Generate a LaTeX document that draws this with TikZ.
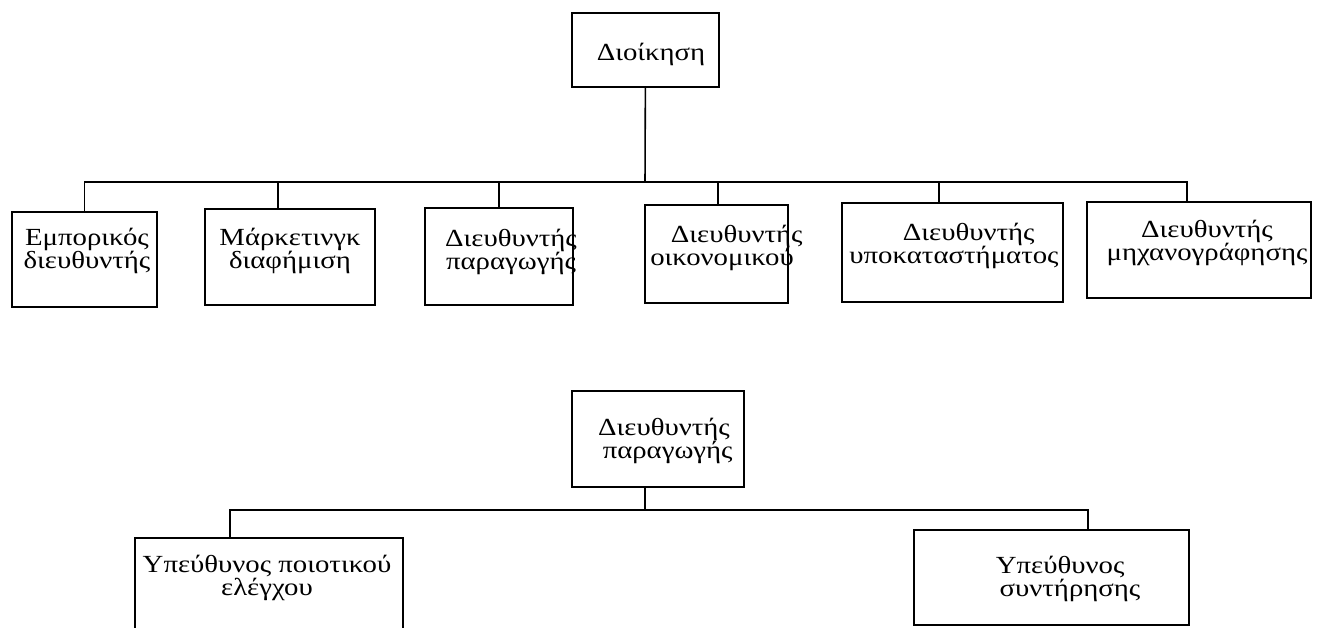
\documentclass[tikz,border=0pt]{standalone}
\usepackage{fontspec}
\setmainfont{Liberation Serif}[FakeStretch=1.17]
\usetikzlibrary{positioning}

\begin{document}
\begin{tikzpicture}[
    x=0.02cm, y=-0.02cm,
    box/.style={
        draw=black, line width=1pt, minimum width=#1, inner sep=0pt
    },
    txt/.style={
        font=\fontsize{14}{13}\selectfont, align=center, inner sep=0pt
    },
    line/.style={draw=black, line width=0.9pt}
]
\useasboundingbox (0,0) rectangle (1321,628);
\clip (0,0) rectangle (1321,628);

% top level
\node[box=2.94cm, minimum height=1.48cm] (dioik) at (645.5,50) {};
\node[txt] (dioikT) at (651,54) {Διοίκηση};

\node[box=2.9cm, minimum height=1.9cm] (emp) at (84.5,259.5) {};
\node[box=3.4cm, minimum height=1.92cm] (mark) at (290,257) {};
\node[box=2.96cm, minimum height=1.94cm] (parag) at (499,256.5) {};
\node[box=2.86cm, minimum height=1.96cm] (oik) at (716.5,254) {};
\node[box=4.42cm, minimum height=1.98cm] (ypok) at (952.5,252.5) {};
\node[box=4.48cm, minimum height=1.92cm] (mich) at (1199,250) {};

\node[txt] (empT) at (87,251) {Εμπορικός\\διευθυντής};
\node[txt] (markT) at (290,251) {Μάρκετινγκ\\διαφήμιση};
\node[txt] (paragT) at (511,252) {Διευθυντής\\παραγωγής};
\node[txt] (oikT) at (722,248) {\hspace*{1.2em}Διευθυντής\\οικονομικού};
\node[txt] (ypokT) at (954,246) {\hspace*{1.2em}Διευθυντής\\υποκαταστήματος};
\node[txt] (michT) at (1207,243) {Διευθυντής\\μηχανογράφησης};

\coordinate (bus) at (645,182);
\draw[line] (dioik) -- (bus);
\draw[line] (bus) -| (emp);
\draw[line] (bus) -| ([xshift=-0.24cm]mark.north);
\draw[line] (bus) -| (parag);
\draw[line] (bus) -| ([xshift=0.03cm]oik.north);
\draw[line] (bus) -| ([xshift=-0.27cm]ypok.north);
\draw[line] (bus) -| ([xshift=-0.24cm]mich.north);

% production
\node[box=3.44cm, minimum height=1.92cm] (dparag) at (658,439) {};
\node[txt] (dparagT) at (664,441) {Διευθυντής\\\hspace*{0.3em}παραγωγής};

\node[box=5.36cm, minimum height=2.44cm] (poiot) at (269,599) {};
\node[box=5.5cm, minimum height=1.9cm] (syntir) at (1051.5,577.5) {};
\node[txt] (poiotT) at (267,578) {Υπεύθυνος ποιοτικού\\ελέγχου};
\node[txt] (syntirT) at (1070,579) {Υπεύθυνος\hspace*{0.8em}\\συντήρησης};

\coordinate (bus2) at ([xshift=-0.26cm]dparag.south |- 0,510);
\draw[line] ([xshift=-0.26cm]dparag.south) -- (bus2);
\draw[line] (bus2) -| ([xshift=-0.78cm]poiot.north);
\draw[line] (bus2) -| ([xshift=0.73cm]syntir.north);

\end{tikzpicture}
\end{document}
